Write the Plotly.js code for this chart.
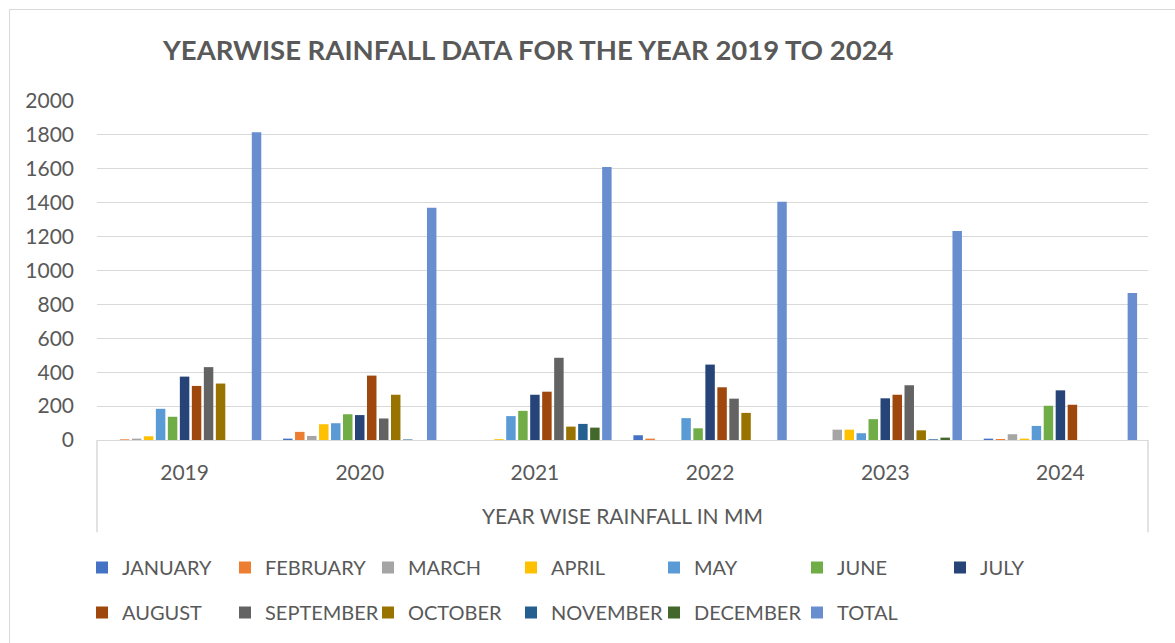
<!DOCTYPE html>
<html>
<head>
<meta charset="utf-8">
<script src="https://cdn.plot.ly/plotly-3.0.1.min.js"></script>
<style>
  html, body { margin: 0; padding: 0; background: #fff; }
  #chart { width: 1175px; height: 643px; }
  #frame { position: absolute; left: 9px; top: 9px; width: 1200px; height: 700px;
           border: 1px solid #d9d9d9; pointer-events: none; }
</style>
</head>
<body>
<div id="chart"></div>
<div id="frame"></div>
<script>
const years = ['2019', '2020', '2021', '2022', '2023', '2024'];
const JANUARY   = [0, 8, 0, 28, 0, 8];
const FEBRUARY  = [4, 48, 0, 8, 0, 6];
const MARCH     = [8, 24, 0, 0, 61, 34];
const APRIL     = [22, 93, 5, 0, 61, 8];
const MAY       = [184, 99, 141, 129, 40, 83];
const JUNE      = [137, 152, 172, 69, 123, 202];
const JULY      = [374, 147, 267, 445, 246, 293];
const AUGUST    = [319, 380, 285, 311, 267, 208];
const SEPTEMBER = [430, 127, 485, 244, 323, 0];
const OCTOBER   = [333, 267, 79, 160, 57, 0];
const NOVEMBER  = [0, 3, 95, 0, 4, 0];
const DECEMBER  = [0, 0, 73, 0, 14, 0];
const TOTAL     = [1815, 1370, 1610, 1405, 1233, 867];

const seriesNames = ['JANUARY','FEBRUARY','MARCH','APRIL','MAY','JUNE','JULY',
                     'AUGUST','SEPTEMBER','OCTOBER','NOVEMBER','DECEMBER','TOTAL'];
const seriesValues = [JANUARY, FEBRUARY, MARCH, APRIL, MAY, JUNE, JULY,
                      AUGUST, SEPTEMBER, OCTOBER, NOVEMBER, DECEMBER, TOTAL];
const colors = ['#4472C4','#ED7D31','#A5A5A5','#FFC000','#5B9BD5','#70AD47','#264478',
                '#9E480E','#636363','#997300','#255E91','#43682B','#698ED0'];

const FONT = 'Lato, "Open Sans", sans-serif';
const TXT = '#595959';

const traces = seriesNames.map((name, i) => ({
  type: 'bar',
  name: name,
  x: years,
  y: seriesValues[i],
  marker: { color: colors[i] },
  legend: i < 7 ? 'legend' : 'legend2'
}));

const legendBase = {
  orientation: 'h',
  xref: 'container', yref: 'container',
  xanchor: 'left', yanchor: 'top',
  x: 82 / 1175,
  entrywidth: 98, entrywidthmode: 'pixels',
  font: { family: FONT, size: 20, color: TXT },
  bgcolor: 'rgba(0,0,0,0)',
  borderwidth: 0,
  traceorder: 'normal'
};

const W = 1175, H = 643;
const plotBottom = 440.5, plotTop = 101;
const boxDepth = 92.5;

const layout = {
  width: W, height: H,
  margin: { l: 97, r: 27, t: plotTop, b: H - plotBottom, pad: 0 },
  paper_bgcolor: '#ffffff',
  plot_bgcolor: '#ffffff',
  font: { family: FONT, color: TXT },
  showlegend: true,
  barmode: 'group',
  bargap: 0.11,
  bargroupgap: 0.21,
  title: {
    text: '<b>YEARWISE RAINFALL DATA FOR THE YEAR 2019 TO 2024</b>',
    font: { family: FONT, size: 27.5, color: TXT },
    xref: 'container', yref: 'container',
    x: 163 / W, xanchor: 'left',
    y: 1 - 50 / H, yanchor: 'middle'
  },
  xaxis: {
    type: 'category',
    showgrid: false,
    showline: true, linecolor: '#d9d9d9', linewidth: 1,
    ticks: '',
    ticklabelstandoff: 14,
    tickfont: { family: FONT, size: 21, color: TXT },
    title: { text: 'YEAR WISE RAINFALL IN MM', font: { family: FONT, size: 21, color: TXT }, standoff: 26 },
    fixedrange: true
  },
  yaxis: {
    range: [0, 2000],
    dtick: 200,
    showgrid: true, gridcolor: '#d9d9d9', gridwidth: 1,
    zeroline: false,
    showline: false,
    ticks: '',
    ticklabelstandoff: 22,
    tickfont: { family: FONT, size: 21, color: TXT },
    fixedrange: true
  },
  legend: Object.assign({}, legendBase, { y: 1 - 548 / H }),
  legend2: Object.assign({}, legendBase, { y: 1 - 593 / H }),
  shapes: [
    { type: 'line', xref: 'paper', yref: 'paper', x0: 0, x1: 0, y0: 0, y1: -boxDepth / (plotBottom - plotTop),
      line: { color: '#d9d9d9', width: 1.5 } },
    { type: 'line', xref: 'paper', yref: 'paper', x0: 1, x1: 1, y0: 0, y1: -boxDepth / (plotBottom - plotTop),
      line: { color: '#d9d9d9', width: 1.5 } }
  ]
};

Plotly.newPlot('chart', traces, layout, { displayModeBar: false, staticPlot: true });
</script>
</body>
</html>
